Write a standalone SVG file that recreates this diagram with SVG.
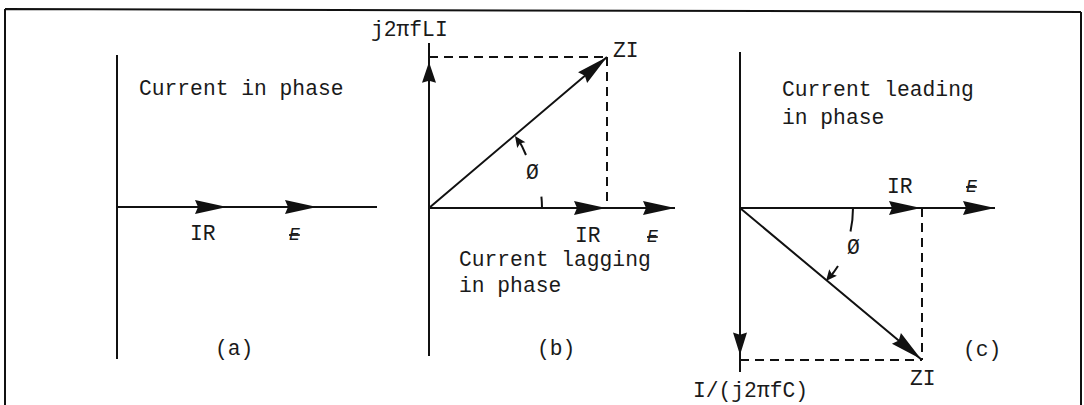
<svg xmlns="http://www.w3.org/2000/svg" width="1084" height="405" viewBox="0 0 1084 405">
<style>
.ln{stroke:#111;stroke-width:2;fill:none}
.ds{stroke:#111;stroke-width:2;fill:none;stroke-dasharray:9,6}
.ah{fill:#111}
text{font-family:"Liberation Mono","DejaVu Sans Mono",monospace;font-size:21.3px;fill:#1a1a1a}
.e{font-style:italic;font-size:18px;text-decoration:line-through}
</style>
<defs>
<path id="ah" d="M0,0 L-32,-7 L-29,0 L-32,7 Z"/>
<path id="sa" d="M0,0 L-11,-5 L-9,0 L-11,5 Z"/>
</defs>
<rect width="1084" height="405" fill="#fff"/>
<g id="frame">
<path class="ln" d="M5,9 L1081,12 M5,9 L5,405 M1081,12 L1081,405"/>
</g>
<g id="panel-a">
<text x="139" y="95">Current in phase</text>
<text x="190" y="240">IR</text>
<text class="e" x="289" y="240">E</text>
<text x="215" y="355">(a)</text>
</g>
<g id="panel-b">
<text x="371" y="36">j2πfLI</text>
<text x="613" y="57">ZI</text>
<text x="575" y="242">IR</text>
<text class="e" x="647" y="242">E</text>
<text x="459" y="266">Current lagging</text>
<text x="459" y="292">in phase</text>
<text x="526" y="179">Ø</text>
<text x="537" y="355">(b)</text>
</g>
<g id="panel-c">
<text x="782" y="96">Current leading</text>
<text x="782" y="124">in phase</text>
<text x="887" y="193">IR</text>
<text class="e" x="966" y="192">E</text>
<text x="847" y="254">Ø</text>
<text x="963" y="356">(c)</text>
<text x="910" y="385">ZI</text>
<text x="693" y="397">I/(j2πfC)</text>
</g>
<g id="connectors">
<!-- panel a -->
<path class="ln" d="M117,55 L117,359 M117,207 L377,207"/>
<use href="#ah" class="ah" transform="translate(227,207)"/>
<use href="#ah" class="ah" transform="translate(317,207)"/>
<!-- panel b -->
<path class="ln" d="M429,43 L429,356 M429,208 L675,208 M429,208 L607,57"/>
<path class="ds" d="M429,57 L607,57 M607,57 L607,208"/>
<use href="#ah" class="ah" transform="translate(429,62) rotate(-90) scale(0.65,1)"/>
<use href="#ah" class="ah" transform="translate(606,208)"/>
<use href="#ah" class="ah" transform="translate(675,208)"/>
<use href="#ah" class="ah" transform="translate(607,57) rotate(-40.3)"/>
<path class="ln" d="M542,208 A113,113 0 0 0 541.4,196.6"/>
<path class="ln" d="M526,155 A113,113 0 0 0 518,139"/>
<use href="#sa" class="ah" transform="translate(515,136) rotate(-125)"/>
<!-- panel c -->
<path class="ln" d="M740,52 L740,372 M740,208 L995,208 M740,208 L922,360"/>
<path class="ds" d="M740,360 L922,360 M922,208 L922,360"/>
<use href="#ah" class="ah" transform="translate(740,355) rotate(90) scale(0.7,1)"/>
<use href="#ah" class="ah" transform="translate(921,208)"/>
<use href="#ah" class="ah" transform="translate(995,208)"/>
<use href="#ah" class="ah" transform="translate(921,359) rotate(39.9)"/>
<path class="ln" d="M853,208 A113,113 0 0 1 850.5,231.5"/>
<path class="ln" d="M838,266 A113,113 0 0 1 830,277"/>
<use href="#sa" class="ah" transform="translate(826,281) rotate(130)"/>
</g>
</svg>
